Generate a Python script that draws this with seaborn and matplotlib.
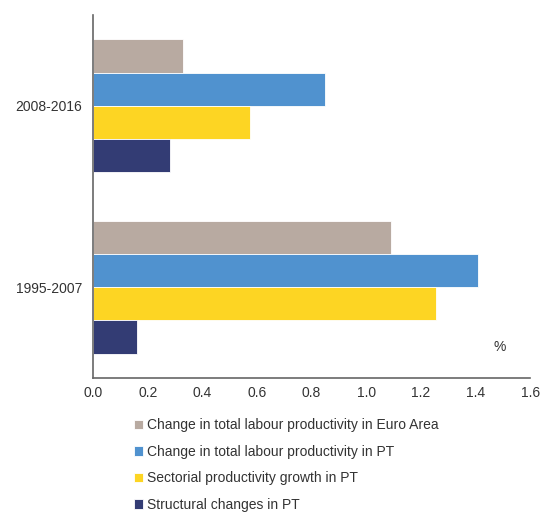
import matplotlib
matplotlib.use('Agg')
import matplotlib.pyplot as plt
import pandas as pd
import seaborn as sns

# Data (% growth)
periods = ['2008-2016', '1995-2007']
series = ['Change in total labour productivity in Euro Area',
          'Change in total labour productivity in PT',
          'Sectorial productivity growth in PT',
          'Structural changes in PT']
vals_2008 = [0.33, 0.85, 0.575, 0.28]
vals_1995 = [1.09, 1.41, 1.255, 0.16]
colors = ['#B8AAA1', '#5092CF', '#FDD523', '#333C74']

df = pd.DataFrame({
    'period': [periods[0]] * 4 + [periods[1]] * 4,
    'series': series + series,
    'value': vals_2008 + vals_1995,
})

sns.set_style('white')
plt.rcParams['font.family'] = ['Liberation Sans', 'DejaVu Sans']

fig = plt.figure(figsize=(5.41, 5.13), dpi=100)
ax = fig.add_axes([0.172, 0.263, 0.808, 0.708])

sns.barplot(data=df, x='value', y='period', hue='series', order=periods,
            hue_order=series, palette=colors, saturation=1, orient='h', width=0.73,
            edgecolor='white', linewidth=0.6, errorbar=None, ax=ax)

ax.set_xlim(0, 1.6)
ax.set_xticks([0, 0.2, 0.4, 0.6, 0.8, 1.0, 1.2, 1.4, 1.6])
ax.set_xticklabels(['0.0', '0.2', '0.4', '0.6', '0.8', '1.0', '1.2', '1.4', '1.6'])
ax.set_xlabel('')
ax.set_ylabel('')
ax.tick_params(axis='both', length=0, labelsize=10, colors='#333333')
ax.tick_params(axis='y', pad=8)
ax.tick_params(axis='x', pad=6)
for s in ['top', 'right']:
    ax.spines[s].set_visible(False)
for s in ['left', 'bottom']:
    ax.spines[s].set_color('#666666')
    ax.spines[s].set_linewidth(1.2)

ax.text(0.917, 0.075, '%', transform=ax.transAxes, fontsize=10, color='#333333')

handles, labels = ax.get_legend_handles_labels()
ax.get_legend().remove()
fig.legend(handles, labels, loc='upper left', bbox_to_anchor=(0.234, 0.198),
           frameon=False, fontsize=10, handlelength=0.65, handleheight=0.65,
           handletextpad=0.35, labelspacing=0.9, borderpad=0, labelcolor='#333333')

fig.savefig('out.png', dpi=100)
